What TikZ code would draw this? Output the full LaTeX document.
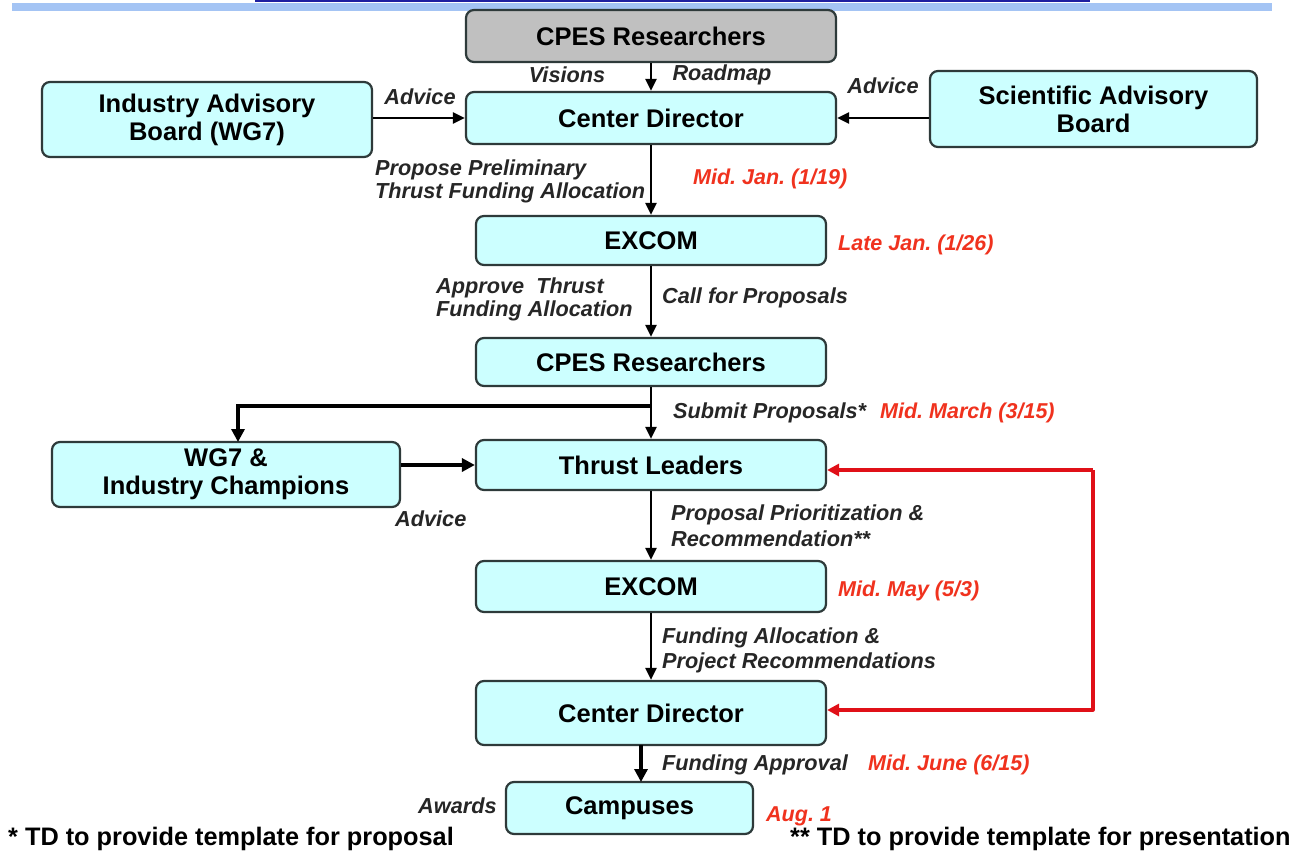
\documentclass[tikz,border=0pt]{standalone}
\usepackage{fontspec}
\setmainfont{Liberation Sans}
\usetikzlibrary{arrows.meta}
\definecolor{boxfill}{HTML}{CCFFFF}
\definecolor{boxline}{HTML}{2E3A3A}
\definecolor{grayfill}{HTML}{C0C0C0}
\definecolor{datered}{HTML}{F0321E}
\definecolor{arrred}{HTML}{E01018}
\definecolor{barblue}{HTML}{A4C4F4}
\definecolor{topblue}{HTML}{2020A0}
\tikzset{
  box/.style={draw=boxline, line width=2.2pt, rounded corners=8pt, fill=boxfill,
    font=\fontsize{25.5}{28}\selectfont\bfseries, align=center, inner sep=0pt},
  lbl/.style={font=\fontsize{21.7}{24}\selectfont\bfseries\itshape, text=black!85, align=left, inner sep=0pt},
  date/.style={font=\fontsize{21.5}{24}\selectfont\bfseries\itshape, text=datered, inner sep=0pt},
  foot/.style={font=\fontsize{25.3}{28}\selectfont\bfseries, inner sep=0pt},
  arr/.style={line width=2.3pt, -{Triangle[length=12pt,width=11pt]}},
  tarr/.style={line width=4pt, -{Triangle[length=13pt,width=13pt]}},
  rarr/.style={draw=arrred, line width=3.2pt, -{Triangle[length=12pt,width=12pt]}},
}
\begin{document}
\frenchspacing
\begin{tikzpicture}[x=1pt,y=-1pt]
\useasboundingbox (0,0) rectangle (1303,853);
\fill[white] (0,0) rectangle (1303,853);
% top decoration
\fill[topblue] (255,0) rectangle (1090,2.5);
\fill[barblue] (12,3) rectangle (1272,11);

% boxes
\node[box, fill=grayfill, minimum width=370pt, minimum height=52pt] (top) at (651,36) {CPES Researchers};
\node[box, minimum width=330pt, minimum height=75pt] (iab) at (207,119.5) {Industry Advisory\\Board (WG7)};
\node[box, minimum width=370pt, minimum height=52pt] (cd1) at (651,118) {Center Director};
\node[box, minimum width=327pt, minimum height=76pt] (sab) at (1093.5,109) {Scientific Advisory\\Board};
\node[box, minimum width=350pt, minimum height=49pt] (ex1) at (651,240.5) {EXCOM};
\node[box, minimum width=350pt, minimum height=48pt] (cpes2) at (651,362) {CPES Researchers};
\node[box, minimum width=348pt, minimum height=65pt] (wg7) at (226,474.5) {WG7 \&\\Industry Champions};
\node[box, minimum width=350pt, minimum height=50pt] (tl) at (651,465) {Thrust Leaders};
\node[box, minimum width=350pt, minimum height=51pt] (ex2) at (651,586.5) {EXCOM};
\node[box, minimum width=350pt, minimum height=64pt] (cd2) at (651,713) {Center Director};
\node[box, minimum width=247pt, minimum height=52pt] (camp) at (629.5,808) {Campuses};

% connectors
\draw[arr] (top.south) -- (cd1.north);
\draw[arr] (iab.east |- cd1.west) -- (cd1.west);
\draw[arr] (sab.west |- cd1.east) -- (cd1.east);
\draw[arr] (cd1.south) -- (ex1.north);
\draw[arr] (ex1.south) -- (cpes2.north);
\coordinate (br) at (651,406);
\coordinate (wgtop) at (238,442);
\draw[arr] (cpes2.south) -- (tl.north);
\draw[tarr] (br) -| (wgtop);
\draw[tarr] (wg7.east |- tl.west) -- (tl.west);
\draw[arr] (tl.south) -- (ex2.north);
\draw[arr] (ex2.south) -- (cd2.north);
\coordinate (cdb) at (641,745);
\coordinate (cpt) at (641,782);
\draw[tarr] (cdb) -- (cpt);
\coordinate (rc) at (1093,470);
\coordinate (rc2) at (1093,710);
\draw[rarr] (rc) -- (tl.east |- rc);
\draw[rarr, line join=round] (rc) -- (rc2) -- (cd2.east |- rc2);

% labels
\node[lbl, anchor=center] (l1) at (567,75) {Visions};
\node[lbl, anchor=center] (l2) at (722,75) {Roadmap};
\node[lbl, anchor=center] (l3) at (420,97) {Advice};
\node[lbl, anchor=center] (l4) at (883,86) {Advice};
\node[lbl, anchor=west] (l5) at (375,170) {Propose Preliminary};
\node[lbl, anchor=west] (l6) at (375,193) {Thrust Funding Allocation};
\node[date, anchor=west] (d1) at (693,179) {Mid. Jan. (1/19)};
\node[date, anchor=west] (d2) at (838,245) {Late Jan. (1/26)};
\node[lbl, anchor=west] (l7) at (436,288) {Approve\ \ Thrust};
\node[lbl, anchor=west] (l8) at (436,311) {Funding Allocation};
\node[lbl, anchor=west] (l9) at (662,298) {Call for Proposals};
\node[lbl, anchor=west] (l10) at (673,413) {Submit Proposals*};
\node[date, anchor=west] (d3) at (880,413) {Mid. March (3/15)};
\node[lbl, anchor=west] (l11) at (395,519) {Advice};
\node[lbl, anchor=west] (l12) at (671,515) {Proposal Prioritization \&};
\node[lbl, anchor=west] (l13) at (671,539) {Recommendation**};
\node[date, anchor=west] (d4) at (838,591) {Mid. May (5/3)};
\node[lbl, anchor=west] (l14) at (662,638) {Funding Allocation \&};
\node[lbl, anchor=west] (l15) at (662,663) {Project Recommendations};
\node[lbl, anchor=west] (l16) at (662,765) {Funding Approval};
\node[date, anchor=west] (d5) at (868,765) {Mid. June (6/15)};
\node[lbl, anchor=west] (l17) at (418,806) {Awards};
\node[date, anchor=west] (d6) at (766,816) {Aug. 1};
\node[foot, anchor=west] (f1) at (8,839) {* TD to provide template for proposal};
\node[foot, anchor=west] (f2) at (790,839) {** TD to provide template for presentation};
\end{tikzpicture}
\end{document}
